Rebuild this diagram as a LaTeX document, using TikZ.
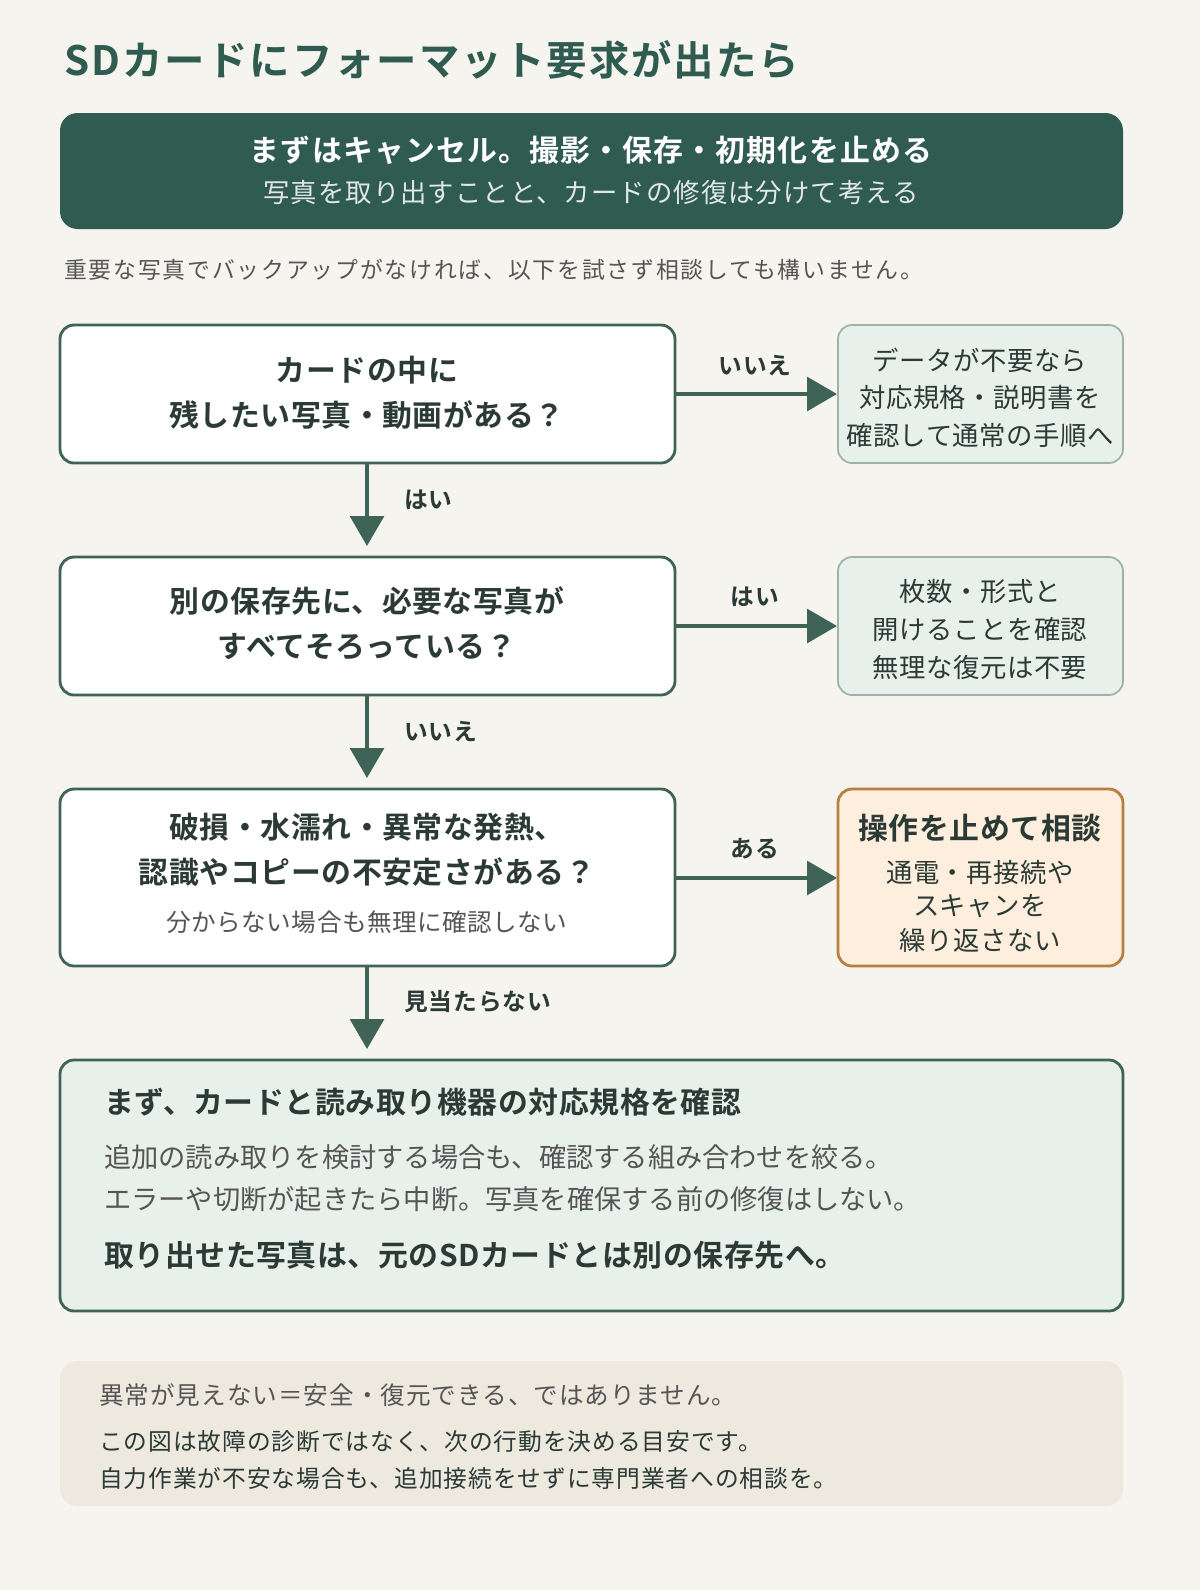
\documentclass[tikz,border=0pt]{standalone}
\usepackage{fontspec}
\setmainfont{Noto Sans CJK JP}[BoldFont={Noto Sans CJK JP Bold}]
\usetikzlibrary{arrows.meta}
\definecolor{bg}{HTML}{F5F4EE}
\definecolor{dkgreen}{HTML}{2F5B50}
\definecolor{edgegreen}{HTML}{3F6357}
\definecolor{palegreen}{HTML}{E8F0EB}
\definecolor{paleedge}{HTML}{9DB3A8}
\definecolor{paleorange}{HTML}{FDEEDD}
\definecolor{orangeedge}{HTML}{B87F40}
\definecolor{note}{HTML}{EDE9DF}
\definecolor{txt}{HTML}{2B3A35}
\definecolor{gtxt}{HTML}{555555}
\begin{document}
\begin{tikzpicture}[x=0.02cm,y=-0.02cm]
        \tikzset{question/.style={draw=edgegreen,line width=1.6pt,fill=white,rounded corners=8pt},
                 side/.style={draw=paleedge,line width=1pt,fill=palegreen,rounded corners=8pt},
                 flow/.style={-{Triangle[length=17pt,width=19pt]},draw=edgegreen,line width=2.6pt},
                 lbl/.style={font=\fontsize{13.5}{16}\selectfont\bfseries\addfontfeatures{LetterSpace=4},text=txt},
                 big/.style={font=\fontsize{17}{20}\selectfont\bfseries\addfontfeatures{LetterSpace=2},text=txt},
                 small/.style={font=\fontsize{15}{18}\selectfont\addfontfeatures{LetterSpace=2},text=txt}}
        \fill[bg] (0,0) rectangle (1200,1590);
        \node[anchor=west,font=\fontsize{23}{26}\selectfont\bfseries\addfontfeatures{LetterSpace=5},text=dkgreen] (title) at (58,60) {SDカードにフォーマット要求が出たら};

        \fill[dkgreen,rounded corners=10pt] (60,113) rectangle (1123,229);
        \node[font=\fontsize{17}{20}\selectfont\bfseries\addfontfeatures{LetterSpace=4},text=white] (head) at (591,150) {まずはキャンセル。撮影・保存・初期化を止める};
        \node[font=\fontsize{15}{18}\selectfont\addfontfeatures{LetterSpace=4},text=white!85!dkgreen] (headsub) at (591,193) {写真を取り出すことと、カードの修復は分けて考える};
        \node[anchor=west,font=\fontsize{13}{16}\selectfont\addfontfeatures{LetterSpace=8},text=gtxt] (intro) at (58,270) {重要な写真でバックアップがなければ、以下を試さず相談しても構いません。};

        % questions
        \draw[question] (60,325) rectangle (675,463);
        \node[big] (q1) at (367,370) {カードの中に};
        \node[big] (q1b) at (367,415) {残したい写真・動画がある？};
        \draw[question] (60,557) rectangle (675,695);
        \node[big] (q2) at (367,601) {別の保存先に、必要な写真が};
        \node[big] (q2b) at (367,647) {すべてそろっている？};
        \draw[question] (60,789) rectangle (675,966);
        \node[big] (q3) at (367,827) {破損・水濡れ・異常な発熱、};
        \node[big] (q3b) at (367,872) {認識やコピーの不安定さがある？};
        \node[font=\fontsize{14}{16}\selectfont\addfontfeatures{LetterSpace=2},text=gtxt] (q3s) at (367,922) {分からない場合も無理に確認しない};

        % answers
        \draw[side] (838,325) rectangle (1123,463);
        \node[small] (a1) at (980,360) {データが不要なら};
        \node[small] (a1b) at (980,398) {対応規格・説明書を};
        \node[small] (a1c) at (980,435) {確認して通常の手順へ};
        \draw[side] (838,557) rectangle (1123,695);
        \node[small] (a2) at (980,592) {枚数・形式と};
        \node[small] (a2b) at (980,629) {開けることを確認};
        \node[small] (a2c) at (980,667) {無理な復元は不要};
        \draw[draw=orangeedge,line width=1.6pt,fill=paleorange,rounded corners=8pt] (838,789) rectangle (1123,966);
        \node[big] (a3) at (980,828) {操作を止めて相談};
        \node[small] (a3b) at (980,872) {通電・再接続や};
        \node[small] (a3c) at (980,906) {スキャンを};
        \node[small] (a3d) at (980,940) {繰り返さない};

        % final
        \draw[question,fill=palegreen] (60,1060) rectangle (1123,1311);
        \node[big,anchor=west] (f1) at (98,1102) {まず、カードと読み取り機器の対応規格を確認};
        \node[anchor=west,font=\fontsize{15.5}{18}\selectfont,text=gtxt] (f2) at (98,1157) {追加の読み取りを検討する場合も、確認する組み合わせを絞る。};
        \node[anchor=west,font=\fontsize{15.5}{18}\selectfont,text=gtxt] (f3) at (98,1199) {エラーや切断が起きたら中断。写真を確保する前の修復はしない。};
        \node[big,anchor=west] (f4) at (98,1255) {取り出せた写真は、元のSDカードとは別の保存先へ。};

        \fill[note,rounded corners=10pt] (60,1361) rectangle (1123,1506);
        \node[anchor=west,font=\fontsize{14}{16}\selectfont\addfontfeatures{LetterSpace=4},text=gtxt] (n1) at (93,1395) {異常が見えない＝安全・復元できる、ではありません。};
        \node[anchor=west,font=\fontsize{13.5}{16}\selectfont\addfontfeatures{LetterSpace=4},text=txt] (n2) at (93,1442) {この図は故障の診断ではなく、次の行動を決める目安です。};
        \node[anchor=west,font=\fontsize{13.5}{16}\selectfont\addfontfeatures{LetterSpace=4},text=txt] (n3) at (93,1478) {自力作業が不安な場合も、追加接続をせずに専門業者への相談を。};

        % connectors
        \coordinate (q1e) at (675,394); \coordinate (a1w) at (837,394);
        \coordinate (q2e) at (675,626); \coordinate (a2w) at (837,626);
        \coordinate (q3e) at (675,878); \coordinate (a3w) at (837,878);
        \coordinate (q1s) at (367,463); \coordinate (q2n) at (367,546);
        \coordinate (q2s) at (367,695); \coordinate (q3n) at (367,778);
        \coordinate (q3e2) at (367,966); \coordinate (f0) at (367,1049);
        \draw[flow] (q1e) -- (a1w);
        \draw[flow] (q2e) -- (a2w);
        \draw[flow] (q3e) -- (a3w);
        \draw[flow] (q1s) -- (q2n);
        \draw[flow] (q2s) -- (q3n);
        \draw[flow] (q3e2) -- (f0);
        \node[lbl] at (755,366) {いいえ};
        \node[lbl] at (755,597) {はい};
        \node[lbl] at (755,849) {ある};
        \node[lbl,anchor=west] at (398,500) {はい};
        \node[lbl,anchor=west] at (398,732) {いいえ};
        \node[lbl,anchor=west] at (398,1002) {見当たらない};
\end{tikzpicture}
\end{document}
